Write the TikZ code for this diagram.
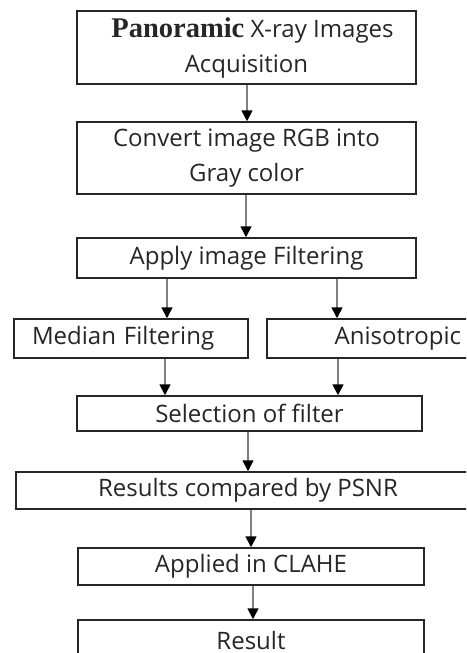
\documentclass[tikz,border=0pt]{standalone}
\usepackage{fontspec}
\setmainfont{Open Sans}
\newfontfamily\serifb{Liberation Serif}
\usetikzlibrary{arrows.meta}
\begin{document}
\begin{tikzpicture}[x=1pt,y=-1pt,
  box/.style={draw=black!85, line width=1.5pt, inner sep=0pt, align=center,
    font=\fontsize{24}{35}\selectfont, text=black!85},
  arr/.style={draw=black!50, line width=1.6pt, -{Triangle[width=11pt,length=11pt,black]}}
]
\useasboundingbox (0,0) rectangle (466,653);
\begin{scope}
\clip (0,0) rectangle (466,653);
\node[box, minimum width=339pt, minimum height=73pt] (b1) at (246.5,47.5)
  {\hspace*{12pt}{\serifb\bfseries\fontsize{28.5}{35}\selectfont Panoramic} X-ray Images\\Acquisition};
\node[box, minimum width=339pt, minimum height=72pt] (b2) at (246.5,158)
  {Convert image RGB into\\Gray color};
\node[box, minimum width=339pt, minimum height=40pt] (b3) at (246.5,258)
  {Apply image Filtering};
\node[box, minimum width=234pt, minimum height=39pt, text width=198pt, align=left, inner xsep=18pt] (med) at (131,338.5)
  {Median Filtering};
\node[box, minimum width=205pt, minimum height=39pt, text width=183pt, align=right, inner xsep=11pt] (ani) at (369.5,338.5)
  {Anisotropic};
\node[box, minimum width=345pt, minimum height=35pt] (sel) at (249.5,413.5)
  {Selection of filter};
\node[box, minimum width=464pt, minimum height=37pt] (psnr) at (248,490.5)
  {Results compared by PSNR};
\node[box, minimum width=346pt, minimum height=37pt] (clahe) at (251,566.5)
  {Applied in CLAHE};
\node[box, minimum width=346pt, minimum height=45pt] (res) at (251,642.5)
  {\raisebox{5pt}{Result}};
\end{scope}
\coordinate (x1) at (247,0);
\coordinate (x2) at (246,0);
\coordinate (x3) at (167,0);
\coordinate (x4) at (337,0);
\coordinate (x5) at (165,0);
\coordinate (x6) at (338,0);
\coordinate (x7) at (248,0);
\coordinate (x8) at (251,0);
\coordinate (x9) at (253,0);
\draw[arr] (b1.south -| x1) -- (b2.north -| x1);
\draw[arr] (b2.south -| x2) -- (b3.north -| x2);
\draw[arr] (b3.south -| x3) -- (med.north -| x3);
\draw[arr] (b3.south -| x4) -- (ani.north -| x4);
\draw[arr] (med.south -| x5) -- (sel.north -| x5);
\draw[arr] (ani.south -| x6) -- (sel.north -| x6);
\draw[arr] (sel.south -| x7) -- (psnr.north -| x7);
\draw[arr] (psnr.south -| x8) -- (clahe.north -| x8);
\draw[arr] (clahe.south -| x9) -- (res.north -| x9);
\end{tikzpicture}
\end{document}
